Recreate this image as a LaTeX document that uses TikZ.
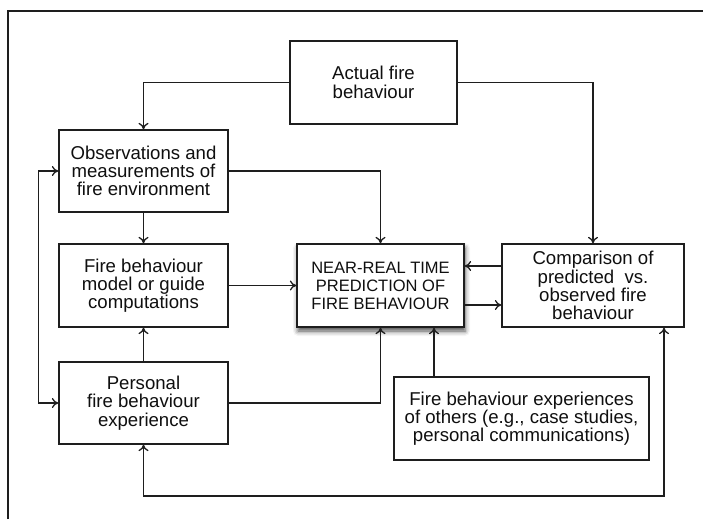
\documentclass[tikz,border=0pt]{standalone}
\usepackage{fontspec}
\setmainfont{Liberation Sans}
\usepackage{tikz}
\usetikzlibrary{arrows.meta,positioning,shadows.blur}
\usepackage{xcolor}
\definecolor{fbline}{RGB}{30,30,30}
\definecolor{fbtext}{RGB}{15,15,15}
\tikzstyle{box} = [draw=fbline, line width=1.3pt, fill=white, text=fbtext, align=center, minimum height=83pt, inner sep=2pt, font=\fontsize{18.6}{18.3}\selectfont]
\tikzstyle{flow} = [line width=1.3pt, color=fbline, -{To[length=6.5pt,width=10pt]}]
\tikzstyle{flowtwo} = [line width=1.3pt, color=fbline, {To[length=6.5pt,width=10pt]}-{To[length=6.5pt,width=10pt]}]

\begin{document}
\begin{tikzpicture}[x=1pt, y=-1pt]
\useasboundingbox (0,0) rectangle (703,519);
% outer frame (cut off at right and bottom)
\draw[line width=1.4pt, fbline] (8,519) -- (8,11) -- (703,11);

% Boxes
\node[box, minimum width=167pt] (actual) at (373.5,82.5) {Actual fire\\behaviour};
\node[box, minimum width=169pt, minimum height=82pt] (obs) at (143.5,171) {Observations and\\measurements of\\fire environment};
\node[box, minimum width=169pt] (model) at (143.5,285.5) {Fire behaviour\\model or guide\\computations};
\node[box, minimum width=169pt, minimum height=82pt] (pers) at (143.5,403) {Personal\\fire behaviour\\experience};
\node[box, minimum width=167pt, font=\fontsize{16.5}{18}\selectfont, blur shadow={shadow xshift=1pt, shadow yshift=-4pt, shadow blur radius=5pt, shadow opacity=70}] (nrt) at (380.5,285.5) {NEAR-REAL TIME\\PREDICTION OF\\FIRE BEHAVIOUR};
\node[box, minimum width=182pt] (comp) at (593,285.5) {Comparison of\\predicted~ vs.\\observed fire\\behaviour};
\node[box, minimum width=255pt] (others) at (521.5,418.5) {Fire behaviour experiences\\of others (e.g., case studies,\\personal communications)};

% Rails for the loops
\coordinate (lowrail) at (0,496);

% Connectors
\draw[flow] (actual.west) -| (obs.north);
\draw[flow] (actual.east) -| (comp.north);
\draw[flow] (obs.east) -| (nrt.north);
\draw[flow] (obs.south) -- (model.north);
\draw[flow] (model.east) -- (nrt.west);
\draw[flow] (pers.north) -- (model.south);
\draw[flow] (pers.east) -| (nrt.south);
\draw[flow] ([xshift=-87.5pt]others.north) -- ([xshift=-87.5pt]others.north |- nrt.south);
\draw[flow] ([yshift=19.5pt]comp.west) -- ([yshift=19.5pt]nrt.east);
\draw[flow] ([yshift=-19.5pt]nrt.east) -- ([yshift=-19.5pt]comp.west);
\draw[flowtwo] (obs.west) -- ++(-20,0) |- (pers.west);
\draw[flowtwo] (pers.south) -- (pers.south |- lowrail) -| ([xshift=71pt]comp.south);
\end{tikzpicture}
\end{document}
